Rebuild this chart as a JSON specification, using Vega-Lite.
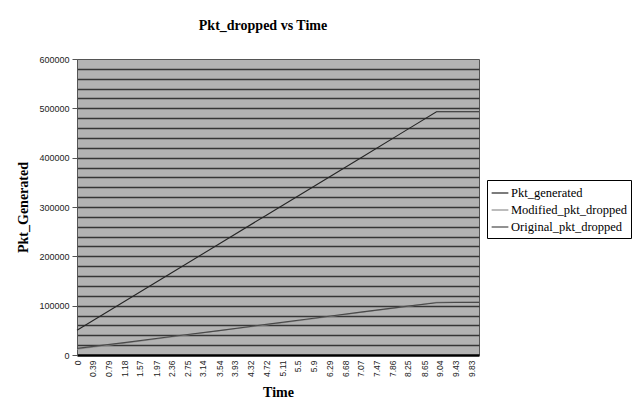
{
  "$schema": "https://vega.github.io/schema/vega-lite/v6.json",
  "width": 402,
  "height": 296,
  "autosize": {"type": "none"},
  "padding": {"left": 77, "top": 59, "right": 155, "bottom": 51},
  "background": "white",
  "title": {"text": "Pkt_dropped vs Time", "font": "Liberation Serif", "fontSize": 14, "fontWeight": "bold", "color": "black", "anchor": "middle", "dx": -15, "offset": 22},
  "data": {"values": [
    {"time": 0, "series": "Pkt_generated", "value": 50000},
    {"time": 1.18, "series": "Pkt_generated", "value": 108300},
    {"time": 2.36, "series": "Pkt_generated", "value": 166700},
    {"time": 3.54, "series": "Pkt_generated", "value": 225000},
    {"time": 4.72, "series": "Pkt_generated", "value": 283400},
    {"time": 5.9, "series": "Pkt_generated", "value": 341700},
    {"time": 7.07, "series": "Pkt_generated", "value": 399500},
    {"time": 8.25, "series": "Pkt_generated", "value": 457900},
    {"time": 8.96, "series": "Pkt_generated", "value": 493000},
    {"time": 9.43, "series": "Pkt_generated", "value": 493000},
    {"time": 10.02, "series": "Pkt_generated", "value": 493000},
    {"time": 0, "series": "Modified_pkt_dropped", "value": 12000},
    {"time": 1.18, "series": "Modified_pkt_dropped", "value": 24000},
    {"time": 2.36, "series": "Modified_pkt_dropped", "value": 36500},
    {"time": 3.54, "series": "Modified_pkt_dropped", "value": 49000},
    {"time": 4.72, "series": "Modified_pkt_dropped", "value": 61000},
    {"time": 5.9, "series": "Modified_pkt_dropped", "value": 73500},
    {"time": 7.07, "series": "Modified_pkt_dropped", "value": 86000},
    {"time": 8.25, "series": "Modified_pkt_dropped", "value": 98500},
    {"time": 8.96, "series": "Modified_pkt_dropped", "value": 107000},
    {"time": 9.43, "series": "Modified_pkt_dropped", "value": 108000},
    {"time": 10.02, "series": "Modified_pkt_dropped", "value": 108500},
    {"time": 0, "series": "Original_pkt_dropped", "value": 13500},
    {"time": 1.18, "series": "Original_pkt_dropped", "value": 25000},
    {"time": 2.36, "series": "Original_pkt_dropped", "value": 37500},
    {"time": 3.54, "series": "Original_pkt_dropped", "value": 49500},
    {"time": 4.72, "series": "Original_pkt_dropped", "value": 62000},
    {"time": 5.9, "series": "Original_pkt_dropped", "value": 74500},
    {"time": 7.07, "series": "Original_pkt_dropped", "value": 87000},
    {"time": 8.25, "series": "Original_pkt_dropped", "value": 99000},
    {"time": 8.96, "series": "Original_pkt_dropped", "value": 106000},
    {"time": 9.43, "series": "Original_pkt_dropped", "value": 106500},
    {"time": 10.02, "series": "Original_pkt_dropped", "value": 106500}
  ]},
  "mark": {"type": "line", "strokeWidth": 1.1},
  "encoding": {
    "x": {
      "field": "time", "type": "quantitative",
      "scale": {"domain": [0, 10.02], "nice": false},
      "axis": {
        "title": "Time",
        "values": [0, 0.39, 0.79, 1.18, 1.57, 1.97, 2.36, 2.75, 3.14, 3.54, 3.93, 4.32, 4.72, 5.11, 5.5, 5.9, 6.29, 6.68, 7.07, 7.47, 7.86, 8.25, 8.65, 9.04, 9.43, 9.83],
        "labelExpr": "toString(datum.value)",
        "labelAngle": 270,
        "labelFont": "Liberation Sans",
        "labelFontSize": 8.5,
        "labelColor": "#222",
        "labelPadding": 5,
        "labelOverlap": false,
        "ticks": false,
        "grid": false,
        "domainColor": "black",
        "domainWidth": 2.5,
        "titleFont": "Liberation Serif",
        "titleFontSize": 14,
        "titleFontWeight": "bold",
        "titleColor": "black",
        "titlePadding": 9
      }
    },
    "y": {
      "field": "value", "type": "quantitative",
      "scale": {"domain": [0, 600000], "nice": false},
      "axis": {
        "title": "Pkt_Generated",
        "values": [0, 20000, 40000, 60000, 80000, 100000, 120000, 140000, 160000, 180000, 200000, 220000, 240000, 260000, 280000, 300000, 320000, 340000, 360000, 380000, 400000, 420000, 440000, 460000, 480000, 500000, 520000, 540000, 560000, 580000, 600000],
        "labelExpr": "datum.value % 100000 === 0 ? toString(datum.value) : ''",
        "labelFont": "Liberation Sans",
        "labelFontSize": 9,
        "labelColor": "#222",
        "labelPadding": 3,
        "tickSize": 5,
        "tickColor": {"condition": {"test": "datum.value % 100000 === 0", "value": "#555"}, "value": "transparent"},
        "grid": true,
        "gridColor": {"condition": {"test": "datum.value === 600000 || datum.value === 0", "value": "transparent"}, "value": "#363636"},
        "gridWidth": 1.5,
        "domainColor": "#555",
        "titleFont": "Liberation Serif",
        "titleFontSize": 14,
        "titleFontWeight": "bold",
        "titleColor": "black",
        "titlePadding": 8
      }
    },
    "color": {
      "field": "series", "type": "nominal",
      "scale": {"domain": ["Pkt_generated", "Modified_pkt_dropped", "Original_pkt_dropped"], "range": ["#262626", "#8f8f8f", "#4a4a4a"]},
      "legend": {
        "title": null,
        "orient": "none",
        "legendX": 410,
        "legendY": 121,
        "fillColor": "white",
        "strokeColor": "black",
        "padding": 4,
        "labelFont": "Liberation Serif",
        "labelFontSize": 12.5,
        "labelColor": "black",
        "symbolType": "stroke",
        "symbolSize": 280,
        "symbolStrokeWidth": 1.2,
        "rowPadding": 1,
        "labelOffset": 2
      }
    }
  },
  "config": {"view": {"fill": "#b3b3b3", "stroke": "#555", "strokeWidth": 1}}
}
